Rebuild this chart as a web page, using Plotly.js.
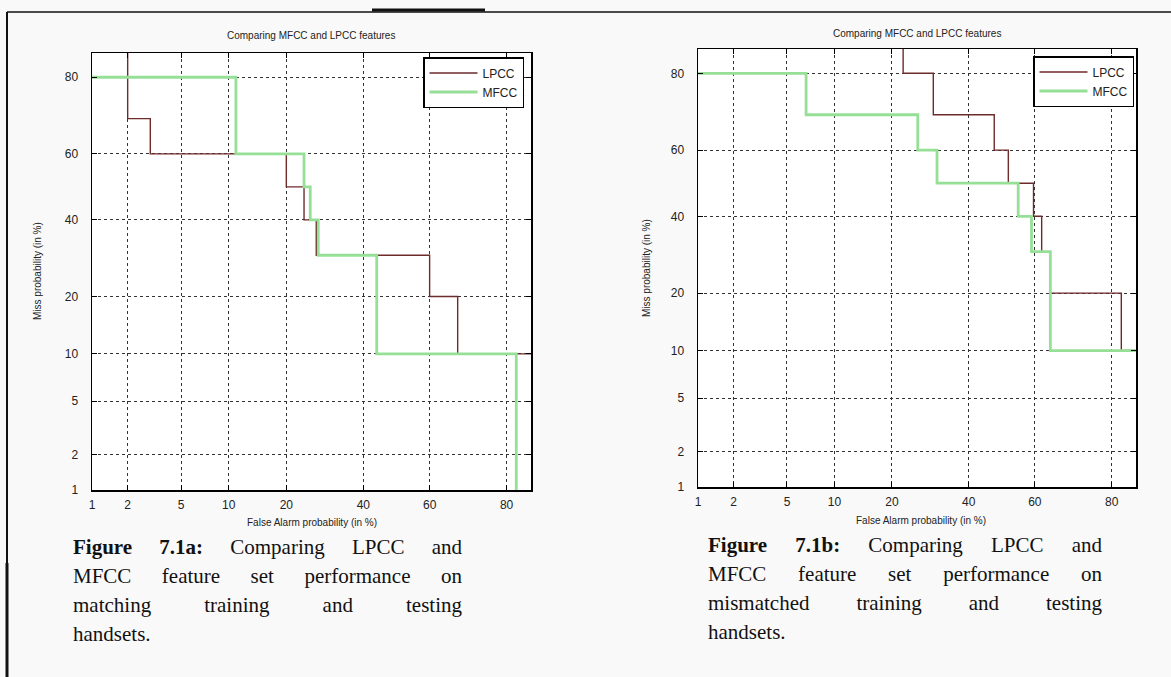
<!DOCTYPE html>
<html>
<head>
<meta charset="utf-8">
<script src="https://cdn.plot.ly/plotly-3.0.1.min.js"></script>
<style>
  html, body { margin: 0; padding: 0; background: #f9f9f9; }
  #wrap { position: relative; width: 1171px; height: 677px; overflow: hidden; }
  #chart { position: absolute; left: 0; top: 0; width: 1171px; height: 677px; }
  .cap { position: absolute; font-family: "Liberation Serif", "DejaVu Serif", serif; font-size: 21px; line-height: 29px; color: #111; }
  .cap div { text-align: justify; text-align-last: justify; white-space: nowrap; }
  .cap div.last { text-align: left; text-align-last: left; }
  .cap b { font-weight: bold; }
  #leftRule { position: absolute; left: 6px; top: 12px; width: 2px; height: 665px; background: #111; }
</style>
</head>
<body>
<div id="wrap">
  <div id="chart"></div>
  <div id="leftRule"></div>
  <div class="cap" id="capA" style="left:73px; top:533px; width:389px;"></div>
  <div class="cap" id="capB" style="left:708px; top:531px; width:394px;"></div>
</div>
<script>
// ---------------- data (percent) ----------------
const tickPercents = [1, 2, 5, 10, 20, 40, 60, 80];
const tickLabels = ["1", "2", "5", "10", "20", "40", "60", "80"];
const seriesNames = ["LPCC", "MFCC"];
const chartTitle = "Comparing MFCC and LPCC features";
const xTitle = "False Alarm probability (in %)";
const yTitle = "Miss probability (in %)";

// Figure 7.1a — matching handsets (step corners, 'vh' steps)
const matchLpccFA   = [2, 3, 20, 24, 27, 60, 68, 86];
const matchLpccMiss = [95, 70, 60, 50, 40, 30, 20, 10];
const matchMfccFA   = [0.8, 11, 24, 25.5, 27.5, 44, 82, 82];
const matchMfccMiss = [80, 80, 60, 50, 40, 30, 10, 0.5];

// Figure 7.1b — mismatched handsets
const misLpccFA   = [22.5, 30, 47.7, 52, 59.6, 62, 64.5, 82, 86];
const misLpccMiss = [95, 80, 70, 60, 50, 40, 30, 20, 10];
const misMfccFA   = [0.8, 6.7, 26, 31, 55, 59, 64.5, 86];
const misMfccMiss = [80, 80, 70, 60, 50, 40, 30, 10];

const captionA = [["Figure 7.1a:", " Comparing LPCC and"], "MFCC feature set performance on", "matching training and testing", "handsets."];
const captionB = [["Figure 7.1b:", " Comparing LPCC and"], "MFCC feature set performance on", "mismatched training and testing", "handsets."];

// ---------------- normal deviate scale ----------------
function probit(p) {
  const a = [-3.969683028665376e+01, 2.209460984245205e+02, -2.759285104469687e+02, 1.383577518672690e+02, -3.066479806614716e+01, 2.506628277459239e+00];
  const b = [-5.447609879822406e+01, 1.615858368580409e+02, -1.556989798598866e+02, 6.680131188771972e+01, -1.328068155288572e+01];
  const c = [-7.784894002430293e-03, -3.223964580411365e-01, -2.400758277161838e+00, -2.549671010115819e+00, 4.374664141464968e+00, 2.938163982698783e+00];
  const d = [7.784695709041462e-03, 3.224671290700398e-01, 2.445134137142996e+00, 3.754408661907416e+00];
  const pl = 0.02425, ph = 1 - pl;
  let q, r;
  if (p < pl) {
    q = Math.sqrt(-2 * Math.log(p));
    return (((((c[0]*q+c[1])*q+c[2])*q+c[3])*q+c[4])*q+c[5]) / ((((d[0]*q+d[1])*q+d[2])*q+d[3])*q+1);
  } else if (p <= ph) {
    q = p - 0.5; r = q*q;
    return (((((a[0]*r+a[1])*r+a[2])*r+a[3])*r+a[4])*r+a[5])*q / (((((b[0]*r+b[1])*r+b[2])*r+b[3])*r+b[4])*r+1);
  } else {
    q = Math.sqrt(-2 * Math.log(1 - p));
    return -(((((c[0]*q+c[1])*q+c[2])*q+c[3])*q+c[4])*q+c[5]) / ((((d[0]*q+d[1])*q+d[2])*q+d[3])*q+1);
  }
}
const dev = arr => arr.map(v => probit(v / 100));

// ---------------- layout helpers ----------------
const W = 1171, H = 677;
const px = x => x / W;
const py = y => 1 - y / H;

const lpccColor = "#6e2b2b";
const mfccColor = "#96df96";

function trace(fa, miss, name, color, width, xa, ya, leg, show) {
  return {
    x: dev(fa), y: dev(miss), name: name, type: "scatter", mode: "lines",
    line: { color: color, width: width, shape: "vh" },
    xaxis: xa, yaxis: ya, legend: leg, showlegend: show,
    hoverinfo: "skip"
  };
}

const data = [
  trace(matchLpccFA, matchLpccMiss, seriesNames[0], lpccColor, 1.4, "x", "y", "legend", true),
  trace(matchMfccFA, matchMfccMiss, seriesNames[1], mfccColor, 2.8, "x", "y", "legend", true),
  trace(misLpccFA, misLpccMiss, seriesNames[0], lpccColor, 1.4, "x2", "y2", "legend2", true),
  trace(misMfccFA, misMfccMiss, seriesNames[1], mfccColor, 2.8, "x2", "y2", "legend2", true)
];

const lo = probit(0.01), hi = probit(0.848);
const tickVals = dev(tickPercents);
const tickFont = { family: "Liberation Sans, Arial, sans-serif", size: 12, color: "#222" };

function axis(domain, anchor, standoff) {
  return {
    domain: domain, anchor: anchor, range: [lo, hi],
    tickmode: "array", tickvals: tickVals, ticktext: tickLabels,
    ticks: "inside", ticklen: 5, tickcolor: "#000", tickwidth: 1,
    showline: true, linecolor: "#000", linewidth: 1.5, mirror: "ticks",
    showgrid: true, gridcolor: "#333", griddash: "dot", gridwidth: 1,
    zeroline: false, tickfont: tickFont, ticklabelstandoff: standoff,
    fixedrange: true
  };
}

const ann = (x, y, text, size, angle) => ({
  x: px(x), y: py(y), xref: "paper", yref: "paper", text: text, showarrow: false,
  xanchor: "center", yanchor: "middle", textangle: angle || 0,
  font: { family: "Liberation Sans, Arial, sans-serif", size: size, color: "#222" }
});

const frameLine = (x0, y0, x1, y1, w) => ({
  type: "line", xref: "paper", yref: "paper",
  x0: px(x0), y0: py(y0), x1: px(x1), y1: py(y1),
  line: { color: "#111", width: w }
});

const legendStyle = (x, y) => ({
  x: px(x), y: py(y), xanchor: "right", yanchor: "top",
  bgcolor: "#ffffff", bordercolor: "#000", borderwidth: 1.5,
  font: { family: "Liberation Sans, Arial, sans-serif", size: 12, color: "#222" },
  itemwidth: 48, tracegroupgap: 0
});

const layout = {
  width: W, height: H, margin: { l: 0, r: 0, t: 0, b: 0 },
  paper_bgcolor: "#f9f9f9", plot_bgcolor: "#ffffff",
  showlegend: true,
  xaxis: axis([px(92), px(531)], "y", 3),
  yaxis: axis([py(490), py(53)], "x", 10),
  xaxis2: axis([px(698), px(1136)], "y2", 3),
  yaxis2: axis([py(487), py(49)], "x2", 10),
  legend: legendStyle(524, 57),
  legend2: legendStyle(1134, 56),
  annotations: [
    ann(311, 36, chartTitle, 10),
    ann(917, 34, chartTitle, 10),
    ann(312, 522, xTitle, 10),
    ann(921, 520, xTitle, 10),
    ann(37, 271, yTitle, 10, -90),
    ann(647, 268, yTitle, 10, -90)
  ],
  shapes: [
    frameLine(7, 12, 1171, 12, 1.5),
    frameLine(372, 10, 485, 10, 3),
    frameLine(7, 563, 7, 677, 3)
  ]
};

Plotly.newPlot("chart", data, layout, { displayModeBar: false, staticPlot: true });

function fillCaption(id, lines) {
  const el = document.getElementById(id);
  lines.forEach((ln, i) => {
    const d = document.createElement("div");
    if (i === lines.length - 1) d.className = "last";
    if (Array.isArray(ln)) {
      const b = document.createElement("b");
      b.textContent = ln[0];
      d.appendChild(b);
      d.appendChild(document.createTextNode(ln[1]));
    } else {
      d.textContent = ln;
    }
    el.appendChild(d);
  });
}
fillCaption("capA", captionA);
fillCaption("capB", captionB);
</script>
</body>
</html>
